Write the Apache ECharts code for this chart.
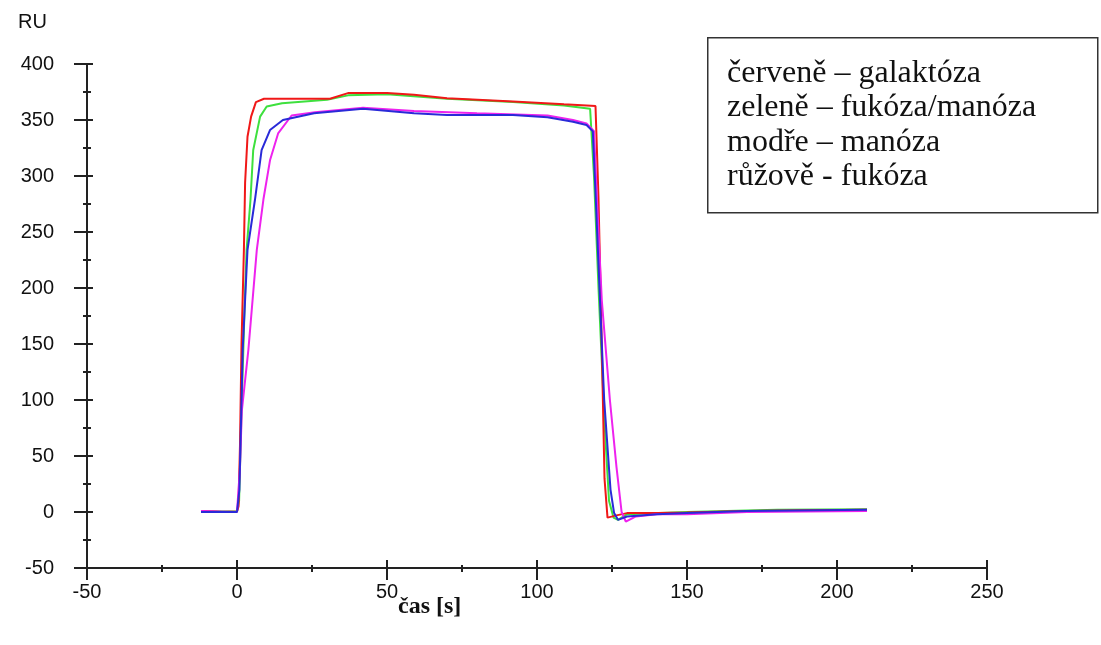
<!DOCTYPE html>
<html>
<head>
<meta charset="utf-8">
<script src="https://cdn.jsdelivr.net/npm/echarts@6/dist/echarts.min.js"></script>
<style>
    html, body { margin: 0; padding: 0; background: #fff; }
    #chart { width: 1101px; height: 645px; }
</style>
</head>
<body>
<div id="chart"></div>
<script>
// cas [s], RU
var cervene = [
    [-12, 1], [-5, 0], [0, 0.5], [0.5, 5], [1, 60], [1.5, 150], [2.3, 234], [2.7, 294],
    [3.5, 335], [4.7, 353], [6.3, 366], [9, 369], [20, 369], [31, 369], [37, 374], [50, 374],
    [59, 372.5], [70, 369.5], [92, 366.5], [109, 364], [119.5, 362.5], [120.5, 280], [121.5, 160],
    [122.5, 30], [123.5, -5], [126.5, -3], [130, -1], [140, -1], [150, -0.5], [170, 1], [190, 1.5], [210, 2]
];
var zelene = [
    [-12, 1], [0, 0.5], [0.7, 10], [1.5, 90], [2.5, 180], [3.2, 234], [4.5, 279], [5.4, 323],
    [7.7, 353], [9.9, 362], [15, 365], [30, 368], [37, 372], [50, 373], [70, 369], [92, 366],
    [109, 363], [117.7, 360], [119, 300], [120.5, 200], [122.5, 80], [124, 10], [125.5, -5],
    [127, -7], [130, -2], [150, 0], [180, 2], [210, 2.5]
];
var modre = [
    [-12, 0], [0, 0], [0.8, 20], [1.9, 145], [3.5, 234], [6, 279], [8.2, 323], [11, 341],
    [15.3, 350], [25.7, 356], [42, 360], [59, 356], [70, 354.5], [92, 354.5], [103.5, 352.5],
    [112, 348.5], [116.5, 345.5], [118.6, 340], [119.6, 279], [121, 189], [122.4, 100],
    [124.5, 20], [125.7, -1], [127, -7], [130, -4], [140, -2], [150, -1], [170, 1], [210, 2]
];
var ruzove = [
    [-12, 1], [0, 0], [1, 40], [1.6, 90], [3.8, 145], [6.6, 234], [8.8, 279], [11, 314],
    [13.7, 338], [18.2, 354], [26, 357], [42, 361], [59, 358], [80, 356], [103.5, 354],
    [112, 350], [116.5, 347], [119, 340], [120, 279], [121.6, 189], [124.3, 100], [126.5, 40],
    [128.2, 0], [129.6, -8.6], [133, -4], [140, -2], [150, -2], [170, 0], [210, 1]
];
var legendLines = ['červeně – galaktóza', 'zeleně – fukóza/manóza', 'modře – manóza', 'růžově - fukóza'];

var myChart = echarts.init(document.getElementById('chart'));

function osa(typ, vnitrni, delka, mdelka, popisky) {
    return {
        type: 'value',
        min: -50,
        max: typ == 'x' ? 250 : 400,
        interval: 50,
        position: typ == 'x' ? 'bottom' : 'left',
        axisLine: { show: popisky, onZero: false, lineStyle: { color: '#222', width: 2 } },
        axisTick: { show: true, inside: vnitrni, length: delka, lineStyle: { color: '#222', width: 2 } },
        minorTick: { show: true, splitNumber: 2, length: mdelka, lineStyle: { color: '#222', width: 2 } },
        axisLabel: {
            show: popisky,
            margin: typ == 'x' ? 14 : 33,
            color: '#111',
            fontFamily: 'Liberation Sans, Arial',
            fontSize: 20
        },
        splitLine: { show: false },
        minorSplitLine: { show: false }
    };
}

function krivka(jmeno, data, barva) {
    return {
        name: jmeno,
        type: 'line',
        xAxisIndex: 0,
        yAxisIndex: 0,
        data: data,
        showSymbol: false,
        symbol: 'none',
        animation: false,
        lineStyle: { color: barva, width: 2 }
    };
}

var option = {
    animation: false,
    grid: { left: 87, right: 114, top: 64, bottom: 77 },
    xAxis: [osa('x', false, 12, 4, true), osa('x', true, 8, 3, false)],
    yAxis: [osa('y', false, 13, 4, true), osa('y', true, 6, 4, false)],
    graphic: [{
        type: 'text', left: 18, top: 12,
        style: { text: 'RU', fill: '#111', font: '20px "Liberation Sans", Arial' }
    }, {
        type: 'text', left: 398, top: 595,
        style: { text: 'čas [s]', fill: '#111', font: 'bold 24px "Liberation Serif", "Times New Roman"' }
    }, {
        type: 'rect', left: 707, top: 37,
        shape: { width: 390, height: 175 },
        style: { fill: '#fff', stroke: '#333', lineWidth: 1.5 }
    }, {
        type: 'text', left: 727, top: 56,
        style: {
            text: legendLines.join('\n'),
            fill: '#111',
            font: '32px "Liberation Serif", "Times New Roman"',
            lineHeight: 34.5
        }
    }],
    series: [
        krivka('zeleně', zelene, '#3ee03e'),
        krivka('červeně', cervene, '#f01818'),
        krivka('růžově', ruzove, '#ee22ee'),
        krivka('modře', modre, '#2a2ad8')
    ]
};
myChart.setOption(option);
</script>
</body>
</html>
